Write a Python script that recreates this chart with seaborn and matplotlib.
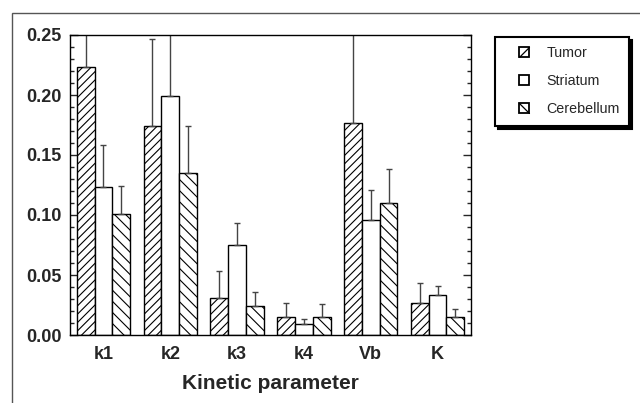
import numpy as np
import pandas as pd
import matplotlib
matplotlib.use('Agg')
import matplotlib.pyplot as plt
import matplotlib.patches as mpatches
from matplotlib.lines import Line2D
from matplotlib.legend_handler import HandlerBase
from matplotlib.ticker import MultipleLocator, FormatStrFormatter
import seaborn as sns

params = ['k1', 'k2', 'k3', 'k4', 'Vb', 'K']
regions = ['Tumor', 'Striatum', 'Cerebellum']

tumor = [0.223, 0.174, 0.031, 0.015, 0.177, 0.027]
striatum = [0.123, 0.199, 0.075, 0.009, 0.096, 0.033]
cerebellum = [0.101, 0.135, 0.024, 0.015, 0.110, 0.015]

# upper error only (some run off the top of the axis)
tumor_err = [0.060, 0.073, 0.022, 0.012, 0.090, 0.016]
striatum_err = [0.035, 0.070, 0.018, 0.004, 0.025, 0.008]
cerebellum_err = [0.023, 0.039, 0.012, 0.011, 0.028, 0.007]

hatches = ['////', '', '\\\\\\']
legend_diag = ['/', '', '\\']

df = pd.DataFrame({
    'param': params * 3,
    'region': sum([[r] * len(params) for r in regions], []),
    'value': tumor + striatum + cerebellum,
})
errs = [tumor_err, striatum_err, cerebellum_err]

sns.set_style('ticks')
plt.rcParams['font.family'] = ['Liberation Sans', 'DejaVu Sans']
plt.rcParams['hatch.linewidth'] = 0.8

fig = plt.figure(figsize=(6.4, 4.03), dpi=100)
ax = fig.add_axes([70 / 640, 1 - 335 / 403, 401 / 640, 300 / 403])

sns.barplot(data=df, x='param', y='value', hue='region', order=params,
            hue_order=regions, palette=['white'] * 3, edgecolor='black',
            linewidth=1.0, width=0.8, errorbar=None, legend=False, ax=ax)

for cont, h, e in zip(ax.containers, hatches, errs):
    xs = []
    ys = []
    for bar in cont:
        bar.set_hatch(h)
        xs.append(bar.get_x() + bar.get_width() / 2)
        ys.append(bar.get_height())
    ax.errorbar(xs, ys, yerr=[np.zeros(len(e)), e], fmt='none',
                ecolor='#444444', elinewidth=1.0, capsize=2, capthick=1.0,
                zorder=1)

ax.set_xlim(-0.5, 5.5)
ax.set_ylim(0, 0.25)
ax.yaxis.set_major_locator(MultipleLocator(0.05))
ax.yaxis.set_minor_locator(MultipleLocator(0.01))
ax.yaxis.set_major_formatter(FormatStrFormatter('%.2f'))
ax.tick_params(axis='y', which='major', direction='in', length=6, width=1,
               right=True, labelsize=13, pad=6)
ax.tick_params(axis='y', which='minor', direction='in', length=3, width=1,
               right=True)
ax.tick_params(axis='x', length=0, labelsize=13, pad=8)
for lab in ax.get_xticklabels() + ax.get_yticklabels():
    lab.set_fontweight('bold')
for sp in ax.spines.values():
    sp.set_visible(True)
    sp.set_linewidth(1.0)
    sp.set_color('black')
ax.set_ylabel('')
ax.set_xlabel('Kinetic parameter', fontsize=15, fontweight='bold', labelpad=8)


class SquareHandler(HandlerBase):
    def __init__(self, diag):
        super().__init__()
        self.diag = diag

    def create_artists(self, legend, orig_handle, xdescent, ydescent,
                       width, height, fontsize, trans):
        s = height
        x0 = -xdescent + width - s
        y0 = -ydescent
        rect = mpatches.Rectangle((x0, y0), s, s, facecolor='white',
                                  edgecolor='black', linewidth=1.3,
                                  transform=trans)
        out = [rect]
        if self.diag == '/':
            out.append(Line2D([x0, x0 + s], [y0, y0 + s], color='black',
                              linewidth=0.9, transform=trans))
        elif self.diag == '\\':
            out.append(Line2D([x0, x0 + s], [y0 + s, y0], color='black',
                              linewidth=0.9, transform=trans))
        return out


handles = [mpatches.Patch(facecolor='white', edgecolor='black')
           for _ in regions]
hmap = {hd: SquareHandler(d) for hd, d in zip(handles, legend_diag)}
leg = fig.legend(handles, regions, loc='upper left',
                 bbox_to_anchor=(495 / 640, 1 - 37 / 403),
                 frameon=True, fancybox=False,
                 shadow={'color': 'black', 'alpha': 1},
                 edgecolor='black', fontsize=10.3, handlelength=1.75,
                 handleheight=0.7, handletextpad=1.19, labelspacing=0.98,
                 borderpad=0.66, borderaxespad=0, handler_map=hmap)
leg.get_frame().set_linewidth(1.5)

frame = mpatches.Rectangle((12 / 640, -0.2), 2, 1.2 - 13 / 403,
                           transform=fig.transFigure, fill=False,
                           edgecolor='#555555', linewidth=1.0)
fig.patches.append(frame)

fig.savefig('out.png', dpi=100)
